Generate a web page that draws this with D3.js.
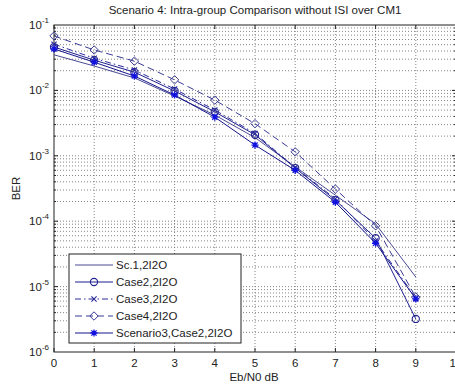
<!DOCTYPE html>
<html lang="en">
<head>
<meta charset="UTF-8">
<title>Scenario 4</title>
<style>
  body { margin: 0; background: #fff; }
  text { font-family: "Liberation Sans", Arial, sans-serif; fill: #222; }
</style>
</head>
<body>
<svg width="455" height="387" id="svg"></svg>
<script src="https://d3js.org/d3.v7.min.js"></script>
<script>
// Eb/N0 points
const ebno = [0, 1, 2, 3, 4, 5, 6, 7, 8, 9]
// BER curves
const sc1 = [0.035, 0.0236, 0.0155, 0.0082, 0.0042, 0.0019, 0.00068, 0.00025, 0.000091, 0.000014]
const case2 = [0.046, 0.029, 0.019, 0.0098, 0.0047, 0.0021, 0.00065, 0.00021, 0.000055, 0.0000032]
const case3 = [0.051, 0.031, 0.0205, 0.0105, 0.005, 0.0022, 0.00066, 0.00022, 0.00005, 0.0000067]
const case4 = [0.068, 0.0415, 0.028, 0.0145, 0.0071, 0.0031, 0.00115, 0.00031, 0.000085, 0.0000069]
const sc3case2 = [0.043, 0.027, 0.0166, 0.0085, 0.0039, 0.00146, 0.0006, 0.000195, 0.000046, 0.0000065]
const seriesNames = ["Sc.1,2I2O", "Case2,2I2O", "Case3,2I2O", "Case4,2I2O", "Scenario3,Case2,2I2O"]
const xTicks = [0, 1, 2, 3, 4, 5, 6, 7, 8, 9, 10]
const yDecades = [-6, -5, -4, -3, -2, -1]

const series = [
    { name: seriesNames[0], values: sc1, color: "#4a4a95", dash: null, marker: "none" },
    { name: seriesNames[1], values: case2, color: "#1f1f8f", dash: null, marker: "circle" },
    { name: seriesNames[2], values: case3, color: "#2a2a9a", dash: "6,3,1.5,3", marker: "x" },
    { name: seriesNames[3], values: case4, color: "#3a3a96", dash: "7,4", marker: "diamond" },
    { name: seriesNames[4], values: sc3case2, color: "#14148c", dash: null, marker: "star" }
]

const svg = d3.select("svg#svg")
const pLeft = 54, pRight = 456, pTop = 25, pBottom = 352

const x = d3.scaleLinear().domain([0, 10]).range([pLeft, pRight])
const y = d3.scaleLog().domain([1e-6, 1e-1]).range([pBottom, pTop])

// grid
const grid = svg.append("g").attr("stroke", "#333").attr("stroke-width", 0.8)
    .attr("stroke-dasharray", "1,2").attr("opacity", 0.75)
xTicks.slice(1, -1).forEach(t => {
    grid.append("line").attr("x1", x(t)).attr("x2", x(t)).attr("y1", pTop).attr("y2", pBottom)
})
const minor = []
yDecades.forEach(e => {
    for (let m = 1; m < 10; m++) {
        const v = m * Math.pow(10, e)
        if (v > 1e-6 && v < 1e-1) minor.push(v)
    }
})
minor.forEach(v => {
    grid.append("line").attr("x1", pLeft).attr("x2", pRight).attr("y1", y(v)).attr("y2", y(v))
})

// box
svg.append("rect").attr("x", pLeft).attr("y", pTop).attr("width", pRight - pLeft).attr("height", pBottom - pTop)
    .attr("fill", "none").attr("stroke", "#222").attr("stroke-width", 1)

// ticks
const ticks = svg.append("g").attr("stroke", "#222").attr("stroke-width", 1)
xTicks.forEach(t => {
    ticks.append("line").attr("x1", x(t)).attr("x2", x(t)).attr("y1", pBottom).attr("y2", pBottom - 4)
    ticks.append("line").attr("x1", x(t)).attr("x2", x(t)).attr("y1", pTop).attr("y2", pTop + 4)
})
minor.forEach(v => {
    const len = Math.abs(Math.log10(v) - Math.round(Math.log10(v))) < 1e-9 ? 4 : 2
    ticks.append("line").attr("x1", pLeft).attr("x2", pLeft + len).attr("y1", y(v)).attr("y2", y(v))
    ticks.append("line").attr("x1", pRight).attr("x2", pRight - len).attr("y1", y(v)).attr("y2", y(v))
})

// tick labels
svg.append("g").selectAll("text").data(xTicks).join("text")
    .attr("x", d => x(d)).attr("y", pBottom + 15).attr("text-anchor", "middle")
    .attr("font-size", 11.5).text(d => d)

const yl = svg.append("g").selectAll("text").data(yDecades).join("text")
    .attr("x", pLeft - 5).attr("y", d => y(Math.pow(10, d)) + 4).attr("text-anchor", "end")
    .attr("font-size", 11.5)
yl.append("tspan").text("10")
yl.append("tspan").attr("dy", -6).attr("font-size", 8).text(d => d)

// title and axis labels
svg.append("text").attr("x", 255).attr("y", 14).attr("text-anchor", "middle")
    .attr("font-size", 11.5).text("Scenario 4: Intra-group Comparison without ISI over CM1")
svg.append("text").attr("x", 254).attr("y", 381).attr("text-anchor", "middle")
    .attr("font-size", 11.5).text("Eb/N0 dB")
svg.append("text").attr("transform", `translate(20, ${(pTop + pBottom) / 2}) rotate(-90)`)
    .attr("text-anchor", "middle").attr("font-size", 11.5).text("BER")

// markers
function drawMarker(g, kind, cx, cy, color) {
    if (kind === "circle") {
        g.append("circle").attr("cx", cx).attr("cy", cy).attr("r", 3.6)
            .attr("fill", "none").attr("stroke", color).attr("stroke-width", 1.1)
    } else if (kind === "x") {
        const s = 2.6
        g.append("path").attr("d", `M${cx - s},${cy - s}L${cx + s},${cy + s}M${cx - s},${cy + s}L${cx + s},${cy - s}`)
            .attr("stroke", color).attr("stroke-width", 1.1)
    } else if (kind === "diamond") {
        const s = 4.2
        g.append("path").attr("d", `M${cx},${cy - s}L${cx + s},${cy}L${cx},${cy + s}L${cx - s},${cy}Z`)
            .attr("fill", "none").attr("stroke", color).attr("stroke-width", 1)
    } else if (kind === "star") {
        const s = 3.6, d = 2.6
        g.append("path").attr("d", `M${cx},${cy - s}L${cx},${cy + s}M${cx - s},${cy}L${cx + s},${cy}` +
            `M${cx - d},${cy - d}L${cx + d},${cy + d}M${cx - d},${cy + d}L${cx + d},${cy - d}`)
            .attr("stroke", "#1010e0").attr("stroke-width", 1.3)
    }
}

const line = d3.line().x((d, i) => x(ebno[i])).y(d => y(d))
const plot = svg.append("g")
series.forEach(s => {
    plot.append("path").datum(s.values).attr("fill", "none")
        .attr("stroke", s.color).attr("stroke-width", 1)
        .attr("stroke-dasharray", s.dash).attr("d", line)
    s.values.forEach((v, i) => drawMarker(plot, s.marker, x(ebno[i]), y(v), s.color))
})

// legend
const lg = svg.append("g")
lg.append("rect").attr("x", 69).attr("y", 254).attr("width", 172).attr("height", 89)
    .attr("fill", "#fff").attr("stroke", "#222").attr("stroke-width", 1)
series.forEach((s, i) => {
    const ly = 265 + i * 17
    lg.append("line").attr("x1", 75).attr("x2", 113).attr("y1", ly).attr("y2", ly)
        .attr("stroke", s.color).attr("stroke-width", 1).attr("stroke-dasharray", s.dash)
    drawMarker(lg, s.marker, 94, ly, s.color)
    lg.append("text").attr("x", 116).attr("y", ly + 4).attr("font-size", 11.5).text(s.name)
})
</script>
</body>
</html>
